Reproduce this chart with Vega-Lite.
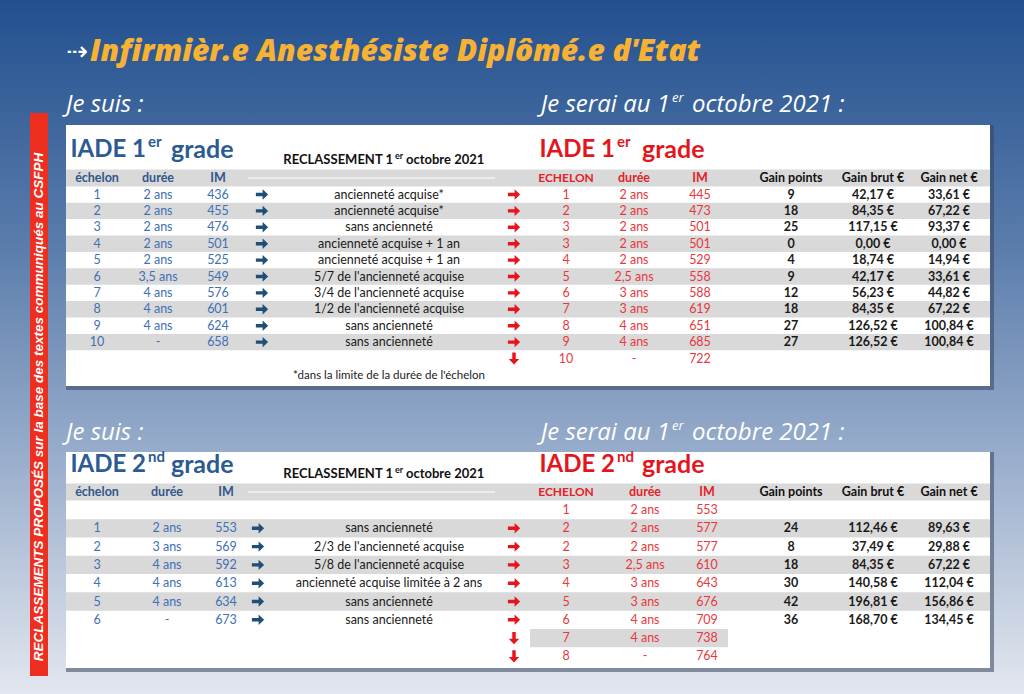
{
"$schema": "https://vega.github.io/schema/vega-lite/v6.json",
"width": 1024, "height": 694,
"autosize": {"type": "fit", "contains": "padding"},
"padding": 0,
"background": "#ffffff",
"config": {"view": {"stroke": null}, "text": {"font": "Lato", "baseline": "middle"}},
"datasets": {
"sections": [
{"sec": 1, "jesuis": 2, "ptop": 4, "title": 5, "reclass": 6, "head": 7, "pbot": 20, "shadow": 21, "lead": "IADE 1", "sup": "er"},
{"sec": 2, "jesuis": 23, "ptop": 24, "title": 25, "reclass": 26, "head": 27, "pbot": 37, "shadow": 38, "lead": "IADE 2", "sup": "nd"}
],
"zebra": [
{"t": 1, "row": 9, "span": "full"}, {"t": 1, "row": 11, "span": "full"}, {"t": 1, "row": 13, "span": "full"}, {"t": 1, "row": 15, "span": "full"}, {"t": 1, "row": 17, "span": "full"},
{"t": 2, "row": 29, "span": "full"}, {"t": 2, "row": 31, "span": "full"}, {"t": 2, "row": 33, "span": "full"}, {"t": 2, "row": 35, "span": "partial"}
],
"tbl": [
{"t":1,"row":8,"ech":"1","dur":"2 ans","im":"436","reclass":"ancienneté acquise*","to":"right","nech":"1","ndur":"2 ans","nim":"445","gp":"9","gb":"42,17 €","gn":"33,61 €"},
{"t":1,"row":9,"ech":"2","dur":"2 ans","im":"455","reclass":"ancienneté acquise*","to":"right","nech":"2","ndur":"2 ans","nim":"473","gp":"18","gb":"84,35 €","gn":"67,22 €"},
{"t":1,"row":10,"ech":"3","dur":"2 ans","im":"476","reclass":"sans ancienneté","to":"right","nech":"3","ndur":"2 ans","nim":"501","gp":"25","gb":"117,15 €","gn":"93,37 €"},
{"t":1,"row":11,"ech":"4","dur":"2 ans","im":"501","reclass":"ancienneté acquise + 1 an","to":"right","nech":"3","ndur":"2 ans","nim":"501","gp":"0","gb":"0,00 €","gn":"0,00 €"},
{"t":1,"row":12,"ech":"5","dur":"2 ans","im":"525","reclass":"ancienneté acquise + 1 an","to":"right","nech":"4","ndur":"2 ans","nim":"529","gp":"4","gb":"18,74 €","gn":"14,94 €"},
{"t":1,"row":13,"ech":"6","dur":"3,5 ans","im":"549","reclass":"5/7 de l'ancienneté acquise","to":"right","nech":"5","ndur":"2,5 ans","nim":"558","gp":"9","gb":"42,17 €","gn":"33,61 €"},
{"t":1,"row":14,"ech":"7","dur":"4 ans","im":"576","reclass":"3/4 de l'ancienneté acquise","to":"right","nech":"6","ndur":"3 ans","nim":"588","gp":"12","gb":"56,23 €","gn":"44,82 €"},
{"t":1,"row":15,"ech":"8","dur":"4 ans","im":"601","reclass":"1/2 de l'ancienneté acquise","to":"right","nech":"7","ndur":"3 ans","nim":"619","gp":"18","gb":"84,35 €","gn":"67,22 €"},
{"t":1,"row":16,"ech":"9","dur":"4 ans","im":"624","reclass":"sans ancienneté","to":"right","nech":"8","ndur":"4 ans","nim":"651","gp":"27","gb":"126,52 €","gn":"100,84 €"},
{"t":1,"row":17,"ech":"10","dur":"-","im":"658","reclass":"sans ancienneté","to":"right","nech":"9","ndur":"4 ans","nim":"685","gp":"27","gb":"126,52 €","gn":"100,84 €"},
{"t":1,"row":18,"ech":"","dur":"","im":"","reclass":"","to":"down","nech":"10","ndur":"-","nim":"722","gp":"","gb":"","gn":""},
{"t":2,"row":28,"ech":"","dur":"","im":"","reclass":"","to":"","nech":"1","ndur":"2 ans","nim":"553","gp":"","gb":"","gn":""},
{"t":2,"row":29,"ech":"1","dur":"2 ans","im":"553","reclass":"sans ancienneté","to":"right","nech":"2","ndur":"2 ans","nim":"577","gp":"24","gb":"112,46 €","gn":"89,63 €"},
{"t":2,"row":30,"ech":"2","dur":"3 ans","im":"569","reclass":"2/3 de l'ancienneté acquise","to":"right","nech":"2","ndur":"2 ans","nim":"577","gp":"8","gb":"37,49 €","gn":"29,88 €"},
{"t":2,"row":31,"ech":"3","dur":"4 ans","im":"592","reclass":"5/8 de l'ancienneté acquise","to":"right","nech":"3","ndur":"2,5 ans","nim":"610","gp":"18","gb":"84,35 €","gn":"67,22 €"},
{"t":2,"row":32,"ech":"4","dur":"4 ans","im":"613","reclass":"ancienneté acquise limitée à 2 ans","to":"right","nech":"4","ndur":"3 ans","nim":"643","gp":"30","gb":"140,58 €","gn":"112,04 €"},
{"t":2,"row":33,"ech":"5","dur":"4 ans","im":"634","reclass":"sans ancienneté","to":"right","nech":"5","ndur":"3 ans","nim":"676","gp":"42","gb":"196,81 €","gn":"156,86 €"},
{"t":2,"row":34,"ech":"6","dur":"-","im":"673","reclass":"sans ancienneté","to":"right","nech":"6","ndur":"4 ans","nim":"709","gp":"36","gb":"168,70 €","gn":"134,45 €"},
{"t":2,"row":35,"ech":"","dur":"","im":"","reclass":"","to":"down","nech":"7","ndur":"4 ans","nim":"738","gp":"","gb":"","gn":""},
{"t":2,"row":36,"ech":"","dur":"","im":"","reclass":"","to":"down","nech":"8","ndur":"-","nim":"764","gp":"","gb":"","gn":""}
]
},
"layer": [
{"data": {"values": [{}]},
 "mark": {"type": "rect", "fill": {"gradient": "linear", "x1": 0, "y1": 0, "x2": 0, "y2": 1, "stops": [{"offset": 0, "color": "#22508f"}, {"offset": 0.35, "color": "#5a7cab"}, {"offset": 0.65, "color": "#97accb"}, {"offset": 1, "color": "#e3e7ef"}]}},
 "encoding": {
  "x": {"datum": 0, "type": "quantitative", "axis": null, "scale": {"type": "linear", "nice": false, "zero": false,
        "domain": [0,1,2,3,4,5,6,7,8,9,10,11,12,13,14,15,16,17,18,19,20,21,22,23,24,25,26,27,28,29],
        "range": [0,30,39,48,66,97,158,167,218,226,248,258,262,389,495,514,530,537,566,634,645,700,707,728,791,873,949,990,994,1024]}},
  "x2": {"datum": 29},
  "y": {"datum": 0, "type": "quantitative", "axis": null, "scale": {"type": "linear", "nice": false, "zero": false,
        "domain": [0,1,2,3,4,5,6,7,8,9,10,11,12,13,14,15,16,17,18,19,20,21,22,23,24,25,26,27,28,29,30,31,32,33,34,35,36,37,38,39,40],
        "range": [0,52,105,113,125,150,160,178,194.5,210.9,227.3,243.7,260.1,276.5,292.9,309.3,325.7,342.1,358.5,376,386,390,407,433,452,465,474,492,510,528.3,546.6,564.9,583.2,601.5,619.8,638.1,656.4,668,672,676,694]}},
  "y2": {"datum": 40}}},
{"data": {"values": [{}]}, "mark": {"type": "rect", "color": "#ee2e1f"},
 "encoding": {"x": {"datum": 1, "type": "quantitative", "axis": null}, "x2": {"datum": 3}, "y": {"datum": 3, "type": "quantitative", "axis": null}, "y2": {"datum": 39}}},
{"data": {"values": [{}]}, "mark": {"type": "text", "text": "RECLASSEMENTS PROPOSÉS sur la base des textes communiqués au CSFPH", "angle": 270, "font": "Liberation Sans", "fontSize": 13.5, "fontWeight": "bold", "fontStyle": "italic", "color": "#ffffff"},
 "encoding": {"x": {"datum": 2, "type": "quantitative", "axis": null}, "y": {"datum": 22, "type": "quantitative", "axis": null}}},
{"data": {"values": [{}]}, "mark": {"type": "text", "text": "⇢", "align": "left", "font": "DejaVu Sans", "fontSize": 26, "color": "#ffffff"},
 "encoding": {"x": {"datum": 4, "type": "quantitative", "axis": null}, "y": {"datum": 1, "type": "quantitative", "axis": null}}},
{"data": {"values": [{}]}, "mark": {"type": "text", "text": "Infirmièr.e Anesthésiste Diplômé.e d'Etat", "align": "left", "dx": 24, "font": "Open Sans", "fontSize": 30, "fontWeight": 800, "fontStyle": "italic", "color": "#f7b234"},
 "encoding": {"x": {"datum": 4, "type": "quantitative", "axis": null}, "y": {"datum": 1, "type": "quantitative", "axis": null}}},

{"data": {"name": "sections"}, "mark": {"type": "rect", "color": "#34445e", "opacity": 0.55},
 "encoding": {"x": {"datum": 4, "type": "quantitative", "axis": null}, "x2": {"datum": 28}, "y": {"field": "ptop", "type": "quantitative", "axis": null}, "y2": {"field": "shadow"}}},
{"data": {"name": "sections"}, "mark": {"type": "rect", "color": "#ffffff"},
 "encoding": {"x": {"datum": 4, "type": "quantitative", "axis": null}, "x2": {"datum": 27}, "y": {"field": "ptop", "type": "quantitative", "axis": null}, "y2": {"field": "pbot"}}},
{"data": {"name": "sections"}, "mark": {"type": "rule", "color": "#d9d9d9", "strokeWidth": 17},
 "encoding": {"x": {"datum": 4, "type": "quantitative", "axis": null}, "x2": {"datum": 27}, "y": {"field": "head", "type": "quantitative", "axis": null}}},
{"data": {"name": "zebra"}, "transform": [{"filter": "datum.t == 1"}], "mark": {"type": "rule", "color": "#d9d9d9", "strokeWidth": 16.4},
 "encoding": {"x": {"datum": 4, "type": "quantitative", "axis": null}, "x2": {"datum": 27}, "y": {"field": "row", "type": "quantitative", "axis": null}}},
{"data": {"name": "zebra"}, "transform": [{"filter": "datum.t == 2 && datum.span == 'full'"}], "mark": {"type": "rule", "color": "#d9d9d9", "strokeWidth": 18.3},
 "encoding": {"x": {"datum": 4, "type": "quantitative", "axis": null}, "x2": {"datum": 27}, "y": {"field": "row", "type": "quantitative", "axis": null}}},
{"data": {"name": "zebra"}, "transform": [{"filter": "datum.span == 'partial'"}], "mark": {"type": "rule", "color": "#d9d9d9", "strokeWidth": 18.3},
 "encoding": {"x": {"datum": 16, "type": "quantitative", "axis": null}, "x2": {"datum": 23}, "y": {"field": "row", "type": "quantitative", "axis": null}}},
{"data": {"name": "sections"}, "mark": {"type": "rule", "color": "#ffffff", "strokeWidth": 1},
 "encoding": {"x": {"datum": 10, "type": "quantitative", "axis": null}, "x2": {"datum": 14}, "y": {"field": "head", "type": "quantitative", "axis": null}}},

{"data": {"name": "sections"}, "mark": {"type": "text", "align": "right", "dx": 80, "fontSize": 24, "fontWeight": "bold", "color": "#2c5a93"},
 "encoding": {"x": {"datum": 4, "type": "quantitative", "axis": null}, "y": {"field": "title", "type": "quantitative", "axis": null}, "text": {"field": "lead", "type": "nominal"}}},
{"data": {"name": "sections"}, "mark": {"type": "text", "align": "left", "dx": 82, "dy": -8, "fontSize": 15, "fontWeight": "bold", "color": "#2c5a93"},
 "encoding": {"x": {"datum": 4, "type": "quantitative", "axis": null}, "y": {"field": "title", "type": "quantitative", "axis": null}, "text": {"field": "sup", "type": "nominal"}}},
{"data": {"name": "sections"}, "mark": {"type": "text", "text": "grade", "align": "left", "dx": 105, "fontSize": 25, "fontWeight": "bold", "color": "#2c5a93"},
 "encoding": {"x": {"datum": 4, "type": "quantitative", "axis": null}, "y": {"field": "title", "type": "quantitative", "axis": null}}},
{"data": {"name": "sections"}, "mark": {"type": "text", "align": "right", "dx": 78, "fontSize": 24, "fontWeight": "bold", "color": "#e3161e"},
 "encoding": {"x": {"datum": 17, "type": "quantitative", "axis": null}, "y": {"field": "title", "type": "quantitative", "axis": null}, "text": {"field": "lead", "type": "nominal"}}},
{"data": {"name": "sections"}, "mark": {"type": "text", "align": "left", "dx": 80, "dy": -8, "fontSize": 15, "fontWeight": "bold", "color": "#e3161e"},
 "encoding": {"x": {"datum": 17, "type": "quantitative", "axis": null}, "y": {"field": "title", "type": "quantitative", "axis": null}, "text": {"field": "sup", "type": "nominal"}}},
{"data": {"name": "sections"}, "mark": {"type": "text", "text": "grade", "align": "left", "dx": 105, "fontSize": 25, "fontWeight": "bold", "color": "#e3161e"},
 "encoding": {"x": {"datum": 17, "type": "quantitative", "axis": null}, "y": {"field": "title", "type": "quantitative", "axis": null}}},

{"data": {"name": "sections"}, "mark": {"type": "text", "text": "Je suis :", "align": "left", "font": "Open Sans", "fontSize": 24, "fontStyle": "italic", "color": "#ffffff"},
 "encoding": {"x": {"datum": 4, "type": "quantitative", "axis": null}, "y": {"field": "jesuis", "type": "quantitative", "axis": null}}},
{"data": {"name": "sections"}, "mark": {"type": "text", "text": "Je serai au 1", "align": "right", "dx": 133, "font": "Open Sans", "fontSize": 24, "fontStyle": "italic", "color": "#ffffff"},
 "encoding": {"x": {"datum": 17, "type": "quantitative", "axis": null}, "y": {"field": "jesuis", "type": "quantitative", "axis": null}}},
{"data": {"name": "sections"}, "mark": {"type": "text", "text": "er", "align": "left", "dx": 135, "dy": -7, "font": "Open Sans", "fontSize": 13, "fontStyle": "italic", "color": "#ffffff"},
 "encoding": {"x": {"datum": 17, "type": "quantitative", "axis": null}, "y": {"field": "jesuis", "type": "quantitative", "axis": null}}},
{"data": {"name": "sections"}, "mark": {"type": "text", "text": "octobre 2021 :", "align": "left", "dx": 155, "font": "Open Sans", "fontSize": 24, "fontStyle": "italic", "color": "#ffffff"},
 "encoding": {"x": {"datum": 17, "type": "quantitative", "axis": null}, "y": {"field": "jesuis", "type": "quantitative", "axis": null}}},

{"data": {"name": "sections"}, "mark": {"type": "text", "text": "RECLASSEMENT 1", "align": "right", "dx": 4, "fontSize": 13, "fontWeight": "bold", "color": "#111111"},
 "encoding": {"x": {"datum": 13, "type": "quantitative", "axis": null}, "y": {"field": "reclass", "type": "quantitative", "axis": null}}},
{"data": {"name": "sections"}, "mark": {"type": "text", "text": "er", "align": "left", "dx": 6, "dy": -4, "fontSize": 9, "fontWeight": "bold", "color": "#111111"},
 "encoding": {"x": {"datum": 13, "type": "quantitative", "axis": null}, "y": {"field": "reclass", "type": "quantitative", "axis": null}}},
{"data": {"name": "sections"}, "mark": {"type": "text", "text": "octobre 2021", "align": "left", "dx": 17, "fontSize": 13, "fontWeight": "bold", "color": "#111111"},
 "encoding": {"x": {"datum": 13, "type": "quantitative", "axis": null}, "y": {"field": "reclass", "type": "quantitative", "axis": null}}},

{"data": {"name": "sections"}, "mark": {"type": "text", "text": "échelon", "fontSize": 12.5, "fontWeight": "bold", "color": "#30578c"},
 "encoding": {"x": {"datum": 5, "type": "quantitative", "axis": null}, "y": {"field": "head", "type": "quantitative", "axis": null}}},
{"data": {"name": "sections"}, "transform": [{"filter": "datum.sec == 1"}], "mark": {"type": "text", "text": "durée", "fontSize": 12.5, "fontWeight": "bold", "color": "#30578c"},
 "encoding": {"x": {"datum": 6, "type": "quantitative", "axis": null}, "y": {"field": "head", "type": "quantitative", "axis": null}}},
{"data": {"name": "sections"}, "transform": [{"filter": "datum.sec == 2"}], "mark": {"type": "text", "text": "durée", "fontSize": 12.5, "fontWeight": "bold", "color": "#30578c"},
 "encoding": {"x": {"datum": 7, "type": "quantitative", "axis": null}, "y": {"field": "head", "type": "quantitative", "axis": null}}},
{"data": {"name": "sections"}, "transform": [{"filter": "datum.sec == 1"}], "mark": {"type": "text", "text": "IM", "fontSize": 12.5, "fontWeight": "bold", "color": "#30578c"},
 "encoding": {"x": {"datum": 8, "type": "quantitative", "axis": null}, "y": {"field": "head", "type": "quantitative", "axis": null}}},
{"data": {"name": "sections"}, "transform": [{"filter": "datum.sec == 2"}], "mark": {"type": "text", "text": "IM", "fontSize": 12.5, "fontWeight": "bold", "color": "#30578c"},
 "encoding": {"x": {"datum": 9, "type": "quantitative", "axis": null}, "y": {"field": "head", "type": "quantitative", "axis": null}}},
{"data": {"name": "sections"}, "mark": {"type": "text", "text": "ECHELON", "fontSize": 12, "fontWeight": "bold", "color": "#e2232a"},
 "encoding": {"x": {"datum": 18, "type": "quantitative", "axis": null}, "y": {"field": "head", "type": "quantitative", "axis": null}}},
{"data": {"name": "sections"}, "transform": [{"filter": "datum.sec == 1"}], "mark": {"type": "text", "text": "durée", "fontSize": 12.5, "fontWeight": "bold", "color": "#e2232a"},
 "encoding": {"x": {"datum": 19, "type": "quantitative", "axis": null}, "y": {"field": "head", "type": "quantitative", "axis": null}}},
{"data": {"name": "sections"}, "transform": [{"filter": "datum.sec == 2"}], "mark": {"type": "text", "text": "durée", "fontSize": 12.5, "fontWeight": "bold", "color": "#e2232a"},
 "encoding": {"x": {"datum": 20, "type": "quantitative", "axis": null}, "y": {"field": "head", "type": "quantitative", "axis": null}}},
{"data": {"name": "sections"}, "transform": [{"filter": "datum.sec == 1"}], "mark": {"type": "text", "text": "IM", "fontSize": 12.5, "fontWeight": "bold", "color": "#e2232a"},
 "encoding": {"x": {"datum": 21, "type": "quantitative", "axis": null}, "y": {"field": "head", "type": "quantitative", "axis": null}}},
{"data": {"name": "sections"}, "transform": [{"filter": "datum.sec == 2"}], "mark": {"type": "text", "text": "IM", "fontSize": 12.5, "fontWeight": "bold", "color": "#e2232a"},
 "encoding": {"x": {"datum": 22, "type": "quantitative", "axis": null}, "y": {"field": "head", "type": "quantitative", "axis": null}}},
{"data": {"name": "sections"}, "mark": {"type": "text", "text": "Gain points", "fontSize": 12.5, "fontWeight": "bold", "color": "#111111"},
 "encoding": {"x": {"datum": 24, "type": "quantitative", "axis": null}, "y": {"field": "head", "type": "quantitative", "axis": null}}},
{"data": {"name": "sections"}, "mark": {"type": "text", "text": "Gain brut €", "fontSize": 12.5, "fontWeight": "bold", "color": "#111111"},
 "encoding": {"x": {"datum": 25, "type": "quantitative", "axis": null}, "y": {"field": "head", "type": "quantitative", "axis": null}}},
{"data": {"name": "sections"}, "mark": {"type": "text", "text": "Gain net €", "fontSize": 12.5, "fontWeight": "bold", "color": "#111111"},
 "encoding": {"x": {"datum": 26, "type": "quantitative", "axis": null}, "y": {"field": "head", "type": "quantitative", "axis": null}}},

{"data": {"name": "tbl"}, "mark": {"type": "text", "fontSize": 12.5, "color": "#4170b5"},
 "encoding": {"x": {"datum": 5, "type": "quantitative", "axis": null}, "y": {"field": "row", "type": "quantitative", "axis": null}, "text": {"field": "ech", "type": "nominal"}}},
{"data": {"name": "tbl"}, "transform": [{"filter": "datum.t == 1"}], "mark": {"type": "text", "fontSize": 12.5, "color": "#4170b5"},
 "encoding": {"x": {"datum": 6, "type": "quantitative", "axis": null}, "y": {"field": "row", "type": "quantitative", "axis": null}, "text": {"field": "dur", "type": "nominal"}}},
{"data": {"name": "tbl"}, "transform": [{"filter": "datum.t == 2"}], "mark": {"type": "text", "fontSize": 12.5, "color": "#4170b5"},
 "encoding": {"x": {"datum": 7, "type": "quantitative", "axis": null}, "y": {"field": "row", "type": "quantitative", "axis": null}, "text": {"field": "dur", "type": "nominal"}}},
{"data": {"name": "tbl"}, "transform": [{"filter": "datum.t == 1"}], "mark": {"type": "text", "fontSize": 12.5, "color": "#4170b5"},
 "encoding": {"x": {"datum": 8, "type": "quantitative", "axis": null}, "y": {"field": "row", "type": "quantitative", "axis": null}, "text": {"field": "im", "type": "nominal"}}},
{"data": {"name": "tbl"}, "transform": [{"filter": "datum.t == 2"}], "mark": {"type": "text", "fontSize": 12.5, "color": "#4170b5"},
 "encoding": {"x": {"datum": 9, "type": "quantitative", "axis": null}, "y": {"field": "row", "type": "quantitative", "axis": null}, "text": {"field": "im", "type": "nominal"}}},
{"data": {"name": "tbl"}, "transform": [{"filter": "datum.t == 1 && datum.reclass != ''"}], "mark": {"type": "point", "shape": "M-1,-0.28L0.1,-0.28L0.1,-0.85L1,0L0.1,0.85L0.1,0.28L-1,0.28Z", "filled": true, "opacity": 1, "size": 150, "color": "#1f4e79"},
 "encoding": {"x": {"datum": 12, "type": "quantitative", "axis": null}, "y": {"field": "row", "type": "quantitative", "axis": null}}},
{"data": {"name": "tbl"}, "transform": [{"filter": "datum.t == 2 && datum.reclass != ''"}], "mark": {"type": "point", "shape": "M-1,-0.28L0.1,-0.28L0.1,-0.85L1,0L0.1,0.85L0.1,0.28L-1,0.28Z", "filled": true, "opacity": 1, "size": 150, "color": "#1f4e79"},
 "encoding": {"x": {"datum": 11, "type": "quantitative", "axis": null}, "y": {"field": "row", "type": "quantitative", "axis": null}}},
{"data": {"name": "tbl"}, "mark": {"type": "text", "fontSize": 12.5, "color": "#1a1a1a"},
 "encoding": {"x": {"datum": 13, "type": "quantitative", "axis": null}, "y": {"field": "row", "type": "quantitative", "axis": null}, "text": {"field": "reclass", "type": "nominal"}}},
{"data": {"name": "tbl"}, "transform": [{"filter": "datum.to == 'right'"}], "mark": {"type": "point", "shape": "M-1,-0.28L0.1,-0.28L0.1,-0.85L1,0L0.1,0.85L0.1,0.28L-1,0.28Z", "filled": true, "opacity": 1, "size": 150, "color": "#e8141b"},
 "encoding": {"x": {"datum": 15, "type": "quantitative", "axis": null}, "y": {"field": "row", "type": "quantitative", "axis": null}}},
{"data": {"name": "tbl"}, "transform": [{"filter": "datum.to == 'down'"}], "mark": {"type": "point", "shape": "M-1,-0.28L0.1,-0.28L0.1,-0.85L1,0L0.1,0.85L0.1,0.28L-1,0.28Z", "angle": 90, "filled": true, "opacity": 1, "size": 150, "color": "#e8141b"},
 "encoding": {"x": {"datum": 15, "type": "quantitative", "axis": null}, "y": {"field": "row", "type": "quantitative", "axis": null}}},
{"data": {"name": "tbl"}, "mark": {"type": "text", "fontSize": 12.5, "color": "#e8383d"},
 "encoding": {"x": {"datum": 18, "type": "quantitative", "axis": null}, "y": {"field": "row", "type": "quantitative", "axis": null}, "text": {"field": "nech", "type": "nominal"}}},
{"data": {"name": "tbl"}, "transform": [{"filter": "datum.t == 1"}], "mark": {"type": "text", "fontSize": 12.5, "color": "#e8383d"},
 "encoding": {"x": {"datum": 19, "type": "quantitative", "axis": null}, "y": {"field": "row", "type": "quantitative", "axis": null}, "text": {"field": "ndur", "type": "nominal"}}},
{"data": {"name": "tbl"}, "transform": [{"filter": "datum.t == 2"}], "mark": {"type": "text", "fontSize": 12.5, "color": "#e8383d"},
 "encoding": {"x": {"datum": 20, "type": "quantitative", "axis": null}, "y": {"field": "row", "type": "quantitative", "axis": null}, "text": {"field": "ndur", "type": "nominal"}}},
{"data": {"name": "tbl"}, "transform": [{"filter": "datum.t == 1"}], "mark": {"type": "text", "fontSize": 12.5, "color": "#e8383d"},
 "encoding": {"x": {"datum": 21, "type": "quantitative", "axis": null}, "y": {"field": "row", "type": "quantitative", "axis": null}, "text": {"field": "nim", "type": "nominal"}}},
{"data": {"name": "tbl"}, "transform": [{"filter": "datum.t == 2"}], "mark": {"type": "text", "fontSize": 12.5, "color": "#e8383d"},
 "encoding": {"x": {"datum": 22, "type": "quantitative", "axis": null}, "y": {"field": "row", "type": "quantitative", "axis": null}, "text": {"field": "nim", "type": "nominal"}}},
{"data": {"name": "tbl"}, "mark": {"type": "text", "fontSize": 12.5, "fontWeight": "bold", "color": "#1a1a1a"},
 "encoding": {"x": {"datum": 24, "type": "quantitative", "axis": null}, "y": {"field": "row", "type": "quantitative", "axis": null}, "text": {"field": "gp", "type": "nominal"}}},
{"data": {"name": "tbl"}, "mark": {"type": "text", "fontSize": 12.5, "fontWeight": "bold", "color": "#1a1a1a"},
 "encoding": {"x": {"datum": 25, "type": "quantitative", "axis": null}, "y": {"field": "row", "type": "quantitative", "axis": null}, "text": {"field": "gb", "type": "nominal"}}},
{"data": {"name": "tbl"}, "mark": {"type": "text", "fontSize": 12.5, "fontWeight": "bold", "color": "#1a1a1a"},
 "encoding": {"x": {"datum": 26, "type": "quantitative", "axis": null}, "y": {"field": "row", "type": "quantitative", "axis": null}, "text": {"field": "gn", "type": "nominal"}}},
{"data": {"values": [{}]}, "mark": {"type": "text", "text": "*dans la limite de la durée de l'échelon", "fontSize": 11.5, "color": "#1a1a1a"},
 "encoding": {"x": {"datum": 13, "type": "quantitative", "axis": null}, "y": {"datum": 19, "type": "quantitative", "axis": null}}}
]
}
